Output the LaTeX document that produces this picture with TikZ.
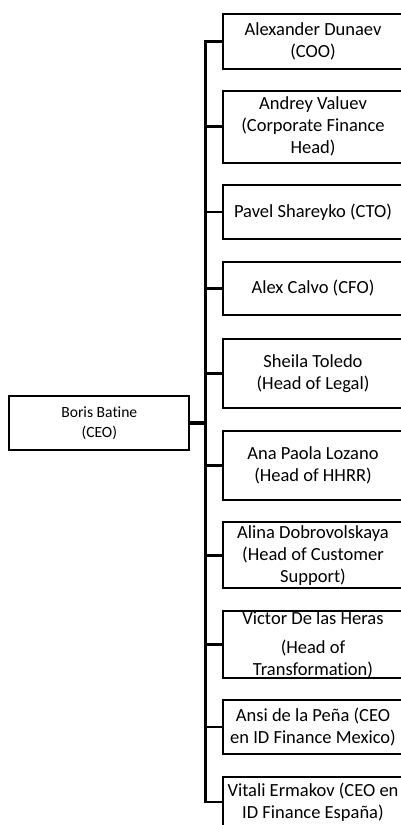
\documentclass[tikz,border=0pt]{standalone}
\usepackage{fontspec}
\setmainfont{Carlito}[Ligatures={NoCommon,NoContextual},RawFeature={-calt}]
\newcommand{\nolig}{\kern0pt{}}
\begin{document}
\begin{tikzpicture}[x=1pt,y=-1pt,
  box/.style={draw=black, line width=2pt, minimum width=180pt, align=center, inner sep=0pt,
    font=\fontsize{18.5}{22}\selectfont},
  ceobox/.style={draw=black, line width=1.8pt, minimum width=180pt, minimum height=54.3pt,
    align=center, inner sep=0pt, font=\fontsize{15.6}{20}\selectfont},
  bus/.style={draw=black, line width=2.5pt},
  stem/.style={draw=black, line width=3.3pt}]
\useasboundingbox (0,0) rectangle (401,825);

\node[ceobox] (ceo) at (99.3,422.9) {Boris Bat\nolig ine\\(CEO)};

\node[box, minimum height=54.7pt] (c1) at (313,41.3) {Alexander Dunaev\\(COO)};
\node[box, minimum height=72pt] (c2) at (313,126.7) {Andrey Valuev\\(Corporate Finance\\Head)};
\node[box, minimum height=53.7pt] (c3) at (313,211.8) {Pavel Shareyko (CTO)};
\node[box, minimum height=53.3pt] (c4) at (313,288.3) {Alex Calvo (CFO)};
\node[box, minimum height=68.7pt] (c5) at (313,373.3) {Sheila Toledo\\(Head of Legal)};
\node[box, minimum height=69.3pt] (c6) at (313,465.3) {Ana Paola Lozano\\(Head of HHRR)};
\node[box, minimum height=66pt] (c7) at (313,555.3) {Alina Dobrovolskaya\\(Head of Customer\\Support)};
\node[box, minimum height=67.3pt] (c8) at (313,644.7) {Victor De las Heras\\[7pt](Head of\\Transformat\nolig ion)};
\node[box, minimum height=54.3pt] (c9) at (313,727.2) {Ansi de la Peña (CEO\\en ID Finance Mexico)};
\node[box, minimum height=50pt] (c10) at (313,802) {Vitali Ermakov (CEO en\\ID Finance España)};

\coordinate (bus) at (205.7,422.9);
\draw[stem] (ceo.east) -- (bus);
\foreach \c in {c1,c2,c3,c4,c5,c6,c7,c8,c9,c10}
  \draw[bus] (bus) |- (\c.west);
\end{tikzpicture}
\end{document}
